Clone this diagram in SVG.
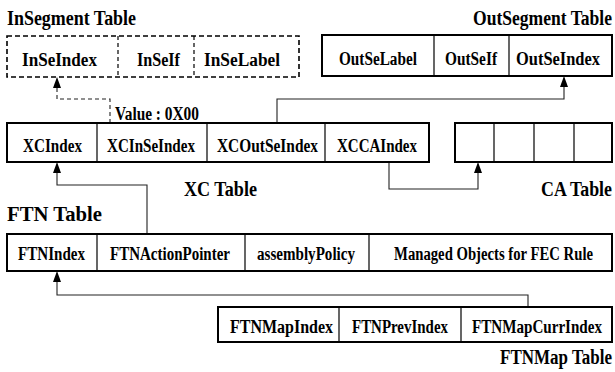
<svg xmlns="http://www.w3.org/2000/svg" width="615" height="372" viewBox="0 0 615 372">
<style>
text{font-family:"Liberation Serif","Times New Roman",serif;font-weight:bold;fill:#000}
.cell{font-size:15px}
.title{font-size:18px}
.box{fill:#fff;stroke:#000;stroke-width:2}
.dbox{fill:#fff;stroke:#000;stroke-width:1.6;stroke-dasharray:5 3}
.div{stroke:#000;stroke-width:1.2}
.ddiv{stroke:#000;stroke-width:1.2;stroke-dasharray:4 3}
.conn{fill:none;stroke:#222;stroke-width:1.1}
.dconn{fill:none;stroke:#222;stroke-width:1.1;stroke-dasharray:4 3}
.ah{fill:#000}
</style>
<rect width="615" height="372" fill="#fff"/>

<g id="connectors">
<path class="dconn" d="M110,123 V99 H57 V86"/>
<path class="conn" d="M277,123 V99 H564 V85"/>
<path class="conn" d="M389,162 V189 H478 V171"/>
<path class="conn" d="M147,234 V185 H57 V171"/>
<path class="conn" d="M528,307 V295 H57 V280"/>
<path class="ah" d="M53,88 L57,77 L61,88 Z"/>
<path class="ah" d="M560,87 L564,76 L568,87 Z"/>
<path class="ah" d="M474,173 L478,162 L482,173 Z"/>
<path class="ah" d="M53,173 L57,162 L61,173 Z"/>
<path class="ah" d="M53,282 L57,271 L61,282 Z"/>
</g>

<g id="insegment">
<text class="title" transform="translate(7,25) scale(1,1.22)" textLength="129" lengthAdjust="spacingAndGlyphs">InSegment Table</text>
<rect class="dbox" x="7" y="36" width="292" height="41"/>
<line class="ddiv" x1="118" y1="36" x2="118" y2="77"/>
<line class="ddiv" x1="194" y1="36" x2="194" y2="77"/>
<text class="cell" transform="translate(22,66) scale(1,1.3)" textLength="75" lengthAdjust="spacingAndGlyphs">InSeIndex</text>
<text class="cell" transform="translate(137,66) scale(1,1.3)" textLength="43" lengthAdjust="spacingAndGlyphs">InSeIf</text>
<text class="cell" transform="translate(204,66) scale(1,1.3)" textLength="76" lengthAdjust="spacingAndGlyphs">InSeLabel</text>
</g>

<g id="outsegment">
<text class="title" transform="translate(473,25) scale(1,1.22)" textLength="139" lengthAdjust="spacingAndGlyphs">OutSegment Table</text>
<rect class="box" x="322" y="35" width="290" height="41"/>
<line class="div" x1="434" y1="35" x2="434" y2="76"/>
<line class="div" x1="509" y1="35" x2="509" y2="76"/>
<text class="cell" transform="translate(339,65) scale(1,1.3)" textLength="78" lengthAdjust="spacingAndGlyphs">OutSeLabel</text>
<text class="cell" transform="translate(445,65) scale(1,1.3)" textLength="52" lengthAdjust="spacingAndGlyphs">OutSeIf</text>
<text class="cell" transform="translate(516,65) scale(1,1.3)" textLength="84" lengthAdjust="spacingAndGlyphs">OutSeIndex</text>
</g>

<g id="value-label">
<text class="cell" transform="translate(115,120) scale(1,1.3)" textLength="84" lengthAdjust="spacingAndGlyphs">Value : 0X00</text>
</g>

<g id="xc">
<rect class="box" x="7" y="123" width="422" height="39"/>
<line class="div" x1="97" y1="123" x2="97" y2="162"/>
<line class="div" x1="207" y1="123" x2="207" y2="162"/>
<line class="div" x1="325" y1="123" x2="325" y2="162"/>
<text class="cell" transform="translate(23,152) scale(1,1.3)" textLength="59" lengthAdjust="spacingAndGlyphs">XCIndex</text>
<text class="cell" transform="translate(107,152) scale(1,1.3)" textLength="88" lengthAdjust="spacingAndGlyphs">XCInSeIndex</text>
<text class="cell" transform="translate(217,152) scale(1,1.3)" textLength="101" lengthAdjust="spacingAndGlyphs">XCOutSeIndex</text>
<text class="cell" transform="translate(337,152) scale(1,1.3)" textLength="80" lengthAdjust="spacingAndGlyphs">XCCAIndex</text>
<text class="title" transform="translate(184,196) scale(1,1.22)" textLength="73" lengthAdjust="spacingAndGlyphs">XC Table</text>
</g>

<g id="ca">
<rect class="box" x="455" y="123" width="157" height="39"/>
<line class="div" x1="494" y1="123" x2="494" y2="162"/>
<line class="div" x1="534" y1="123" x2="534" y2="162"/>
<line class="div" x1="574" y1="123" x2="574" y2="162"/>
<text class="title" transform="translate(541,196) scale(1,1.22)" textLength="71" lengthAdjust="spacingAndGlyphs">CA Table</text>
</g>

<g id="ftn">
<text class="title" transform="translate(7,221) scale(1,1.22)" textLength="95" lengthAdjust="spacingAndGlyphs">FTN Table</text>
<rect class="box" x="7" y="234" width="605" height="37"/>
<line class="div" x1="97" y1="234" x2="97" y2="271"/>
<line class="div" x1="245" y1="234" x2="245" y2="271"/>
<line class="div" x1="369" y1="234" x2="369" y2="271"/>
<text class="cell" transform="translate(18,260) scale(1,1.3)" textLength="67" lengthAdjust="spacingAndGlyphs">FTNIndex</text>
<text class="cell" transform="translate(110,260) scale(1,1.3)" textLength="120" lengthAdjust="spacingAndGlyphs">FTNActionPointer</text>
<text class="cell" transform="translate(257,260) scale(1,1.3)" textLength="98" lengthAdjust="spacingAndGlyphs">assemblyPolicy</text>
<text class="cell" transform="translate(394,260) scale(1,1.3)" textLength="199" lengthAdjust="spacingAndGlyphs">Managed Objects for FEC Rule</text>
</g>

<g id="ftnmap">
<rect class="box" x="218" y="307" width="394" height="35"/>
<line class="div" x1="339" y1="307" x2="339" y2="342"/>
<line class="div" x1="461" y1="307" x2="461" y2="342"/>
<text class="cell" transform="translate(230,333) scale(1,1.3)" textLength="103" lengthAdjust="spacingAndGlyphs">FTNMapIndex</text>
<text class="cell" transform="translate(352,333) scale(1,1.3)" textLength="96" lengthAdjust="spacingAndGlyphs">FTNPrevIndex</text>
<text class="cell" transform="translate(472,333) scale(1,1.3)" textLength="130" lengthAdjust="spacingAndGlyphs">FTNMapCurrIndex</text>
<text class="title" style="font-size:16.5px" transform="translate(500,364) scale(1,1.33)" textLength="112" lengthAdjust="spacingAndGlyphs">FTNMap Table</text>
</g>
</svg>
